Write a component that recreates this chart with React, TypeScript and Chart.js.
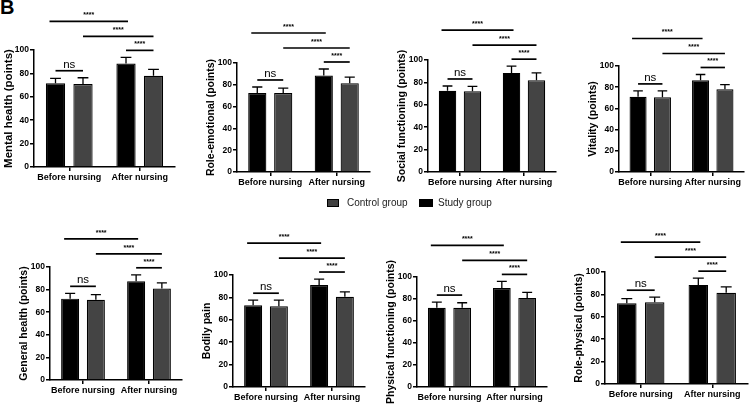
import React, { useEffect, useRef } from 'react';
import Chart from 'chart.js/auto';

// data
const categories = ['Before nursing', 'After nursing'];
const groupNames = ['Study group', 'Control group'];
const sigLabels = ['****', '****', '****', 'ns']; // before/after study, before/after control, after study/control, before study/control

const titles = [
  'Mental health (points)',
  'Role-emotional (points)',
  'Social functioning (points)',
  'Vitality (points)',
  'General health (points)',
  'Bodily pain',
  'Physical functioning (points)',
  'Role-physical (points)',
];

const studyMeans = [
  [71.5, 88.5],
  [72.5, 88.5],
  [72.5, 88.5],
  [71, 86.5],
  [72, 87.5],
  [73, 91],
  [72, 90],
  [72, 88.5],
];
const studySd = [
  [4.3, 5.2],
  [5.5, 6],
  [4.3, 6],
  [5.5, 5.5],
  [4.7, 5.6],
  [4.5, 5.4],
  [5.2, 6],
  [4.2, 6],
];
const controlMeans = [
  [71, 78],
  [72.5, 81.5],
  [72, 82],
  [70.5, 78],
  [71, 81],
  [72, 80.5],
  [72, 81],
  [73, 81.5],
];
const controlSd = [
  [5.3, 5.4],
  [4.5, 5.5],
  [4.5, 6.5],
  [6, 4.5],
  [4.5, 5],
  [5.5, 4.5],
  [4.6, 5],
  [4.5, 5.3],
];
const yTicks = { min: 0, max: 100, step: 20 };

// layout of each panel on the page (axis origin etc.)
const boxes = [
  { axisX: 34, xEnd: 175, y100: 50, y0: 167, titleSize: 11.5 },
  { axisX: 237, xEnd: 370, y100: 63, y0: 172, titleSize: 10.5 },
  { axisX: 428, xEnd: 556, y100: 60, y0: 172, titleSize: 10.5 },
  { axisX: 619, xEnd: 744, y100: 66, y0: 172, titleSize: 10.5 },
  { axisX: 50, xEnd: 182, y100: 267, y0: 380, titleSize: 10.5 },
  { axisX: 233, xEnd: 365, y100: 275, y0: 387, titleSize: 10.5 },
  { axisX: 417, xEnd: 547, y100: 277, y0: 387, titleSize: 10.5 },
  { axisX: 605, xEnd: 748, y100: 272, y0: 384, titleSize: 10.5 },
];

const FONT = '"Liberation Sans", Arial, sans-serif';
const Y_W = 32;
const TOP_PAD = 55;
const X_H = 26;

Chart.defaults.font.family = FONT;

const errorAndSigPlugin = {
  id: 'errorAndSig',
  afterDatasetsDraw(chart: any) {
    const ctx = chart.ctx;
    const yScale = chart.scales.y;
    const sds = chart.options.plugins.errorAndSig.sds;
    const errPx: number[][] = [];
    ctx.save();
    ctx.strokeStyle = '#000';
    ctx.lineWidth = 1.3;
    chart.data.datasets.forEach((ds: any, i: number) => {
      const meta = chart.getDatasetMeta(i);
      errPx[i] = [];
      meta.data.forEach((bar: any, j: number) => {
        const top = yScale.getPixelForValue(ds.data[j] + sds[i][j]);
        errPx[i][j] = top;
        const cap = bar.width * 0.28;
        ctx.beginPath();
        ctx.moveTo(bar.x, bar.y);
        ctx.lineTo(bar.x, top);
        ctx.moveTo(bar.x - cap, top);
        ctx.lineTo(bar.x + cap, top);
        ctx.stroke();
      });
    });

    const s = chart.getDatasetMeta(0).data;
    const c = chart.getDatasetMeta(1).data;
    const nsY = Math.min(errPx[0][0], errPx[1][0]) - 7;
    const l3Y = Math.min(errPx[0][1], errPx[1][1]) - 7;
    const l2Y = l3Y - 14;
    const l1Y = l2Y - 15;
    const lines = [
      [s[0].x - 6, s[1].x + 2, l1Y],
      [c[0].x, c[1].x, l2Y],
      [s[1].x, c[1].x, l3Y],
      [s[0].x, c[0].x, nsY],
    ];
    ctx.lineWidth = 1.7;
    ctx.fillStyle = '#000';
    ctx.textAlign = 'center';
    lines.forEach(([x1, x2, y], k) => {
      ctx.beginPath();
      ctx.moveTo(x1, y);
      ctx.lineTo(x2, y);
      ctx.stroke();
      const label = sigLabels[k];
      if (label === 'ns') {
        ctx.font = `11.5px ${FONT}`;
        ctx.textBaseline = 'alphabetic';
        ctx.fillText(label, (x1 + x2) / 2, y - 3);
      } else {
        ctx.font = `bold 7px ${FONT}`;
        ctx.textBaseline = 'middle';
        ctx.fillText(label, (x1 + x2) / 2, y - 6);
      }
    });
    ctx.restore();
  },
};

const Panel = ({ index }: { index: number }) => {
  const chartRef = useRef<HTMLCanvasElement | null>(null);
  const chartInstance = useRef<Chart | null>(null);
  const b = boxes[index];
  const width = Y_W + (b.xEnd - b.axisX) + 4;
  const height = TOP_PAD + (b.y0 - b.y100) + X_H;

  useEffect(() => {
    if (chartRef.current) {
      chartInstance.current = new Chart(chartRef.current, {
        type: 'bar',
        data: {
          labels: categories,
          datasets: [
            {
              label: groupNames[0],
              data: studyMeans[index],
              backgroundColor: '#000',
              borderColor: '#000',
              borderWidth: 1.2,
            },
            {
              label: groupNames[1],
              data: controlMeans[index],
              backgroundColor: '#444',
              borderColor: '#000',
              borderWidth: 1.2,
            },
          ],
        },
        options: {
          animation: false,
          responsive: true,
          maintainAspectRatio: false,
          layout: { padding: { top: TOP_PAD, right: 4, left: 0, bottom: 0 } },
          datasets: { bar: { categoryPercentage: 0.78, barPercentage: 0.7 } },
          plugins: {
            legend: { display: false },
            tooltip: { enabled: false },
            errorAndSig: { sds: [studySd[index], controlSd[index]] },
          } as any,
          scales: {
            x: {
              afterFit: (sc: any) => {
                sc.height = X_H;
              },
              grid: {
                offset: false,
                drawOnChartArea: false,
                drawTicks: true,
                tickLength: 4,
                color: '#000',
                lineWidth: 1.5,
              },
              border: { display: true, color: '#000', width: 1.5 },
              ticks: {
                color: '#000',
                padding: 1,
                autoSkip: false,
                maxRotation: 0,
                font: { size: 9, weight: 'bold' },
              },
            },
            y: {
              min: yTicks.min,
              max: yTicks.max,
              afterFit: (sc: any) => {
                sc.width = Y_W;
              },
              grid: {
                drawOnChartArea: false,
                drawTicks: true,
                tickLength: 4,
                color: '#000',
                lineWidth: 1.5,
              },
              border: { display: true, color: '#000', width: 1.5 },
              ticks: { stepSize: yTicks.step, color: '#000', padding: 1, font: { size: 8.5, weight: 'bold' } },
              title: {
                display: true,
                text: titles[index],
                color: '#000',
                padding: 0,
                font: { size: b.titleSize, weight: 'bold' },
              },
            },
          },
        },
        plugins: [errorAndSigPlugin],
      });
    }
    return () => {
      if (chartInstance.current) {
        chartInstance.current.destroy();
      }
    };
  }, [index]);

  return (
    <div style={{ position: 'absolute', left: b.axisX - Y_W, top: b.y100 - TOP_PAD, width, height }}>
      <canvas ref={chartRef}></canvas>
    </div>
  );
};

const legendText: React.CSSProperties = {
  position: 'absolute',
  top: 197,
  fontFamily: FONT,
  fontSize: 10,
  lineHeight: '12px',
  color: '#222',
  whiteSpace: 'nowrap',
};

const App = () => {
  return (
    <div style={{ position: 'absolute', left: 0, top: 0, width: 750, height: 405, overflow: 'hidden', background: '#fff' }}>
      <div style={{ position: 'absolute', left: 0, top: -3, fontFamily: FONT, fontWeight: 'bold', fontSize: 20, lineHeight: '20px' }}>
        B
      </div>
      {titles.map((_, i) => (
        <Panel key={i} index={i} />
      ))}
      <div style={{ position: 'absolute', left: 327, top: 199, width: 10, height: 6, background: '#404040', border: '1px solid #000' }} />
      <div style={{ ...legendText, left: 347 }}>{groupNames[1]}</div>
      <div style={{ position: 'absolute', left: 419, top: 199, width: 12, height: 6, background: '#000', border: '1px solid #000' }} />
      <div style={{ ...legendText, left: 438 }}>{groupNames[0]}</div>
    </div>
  );
};

export default App;
